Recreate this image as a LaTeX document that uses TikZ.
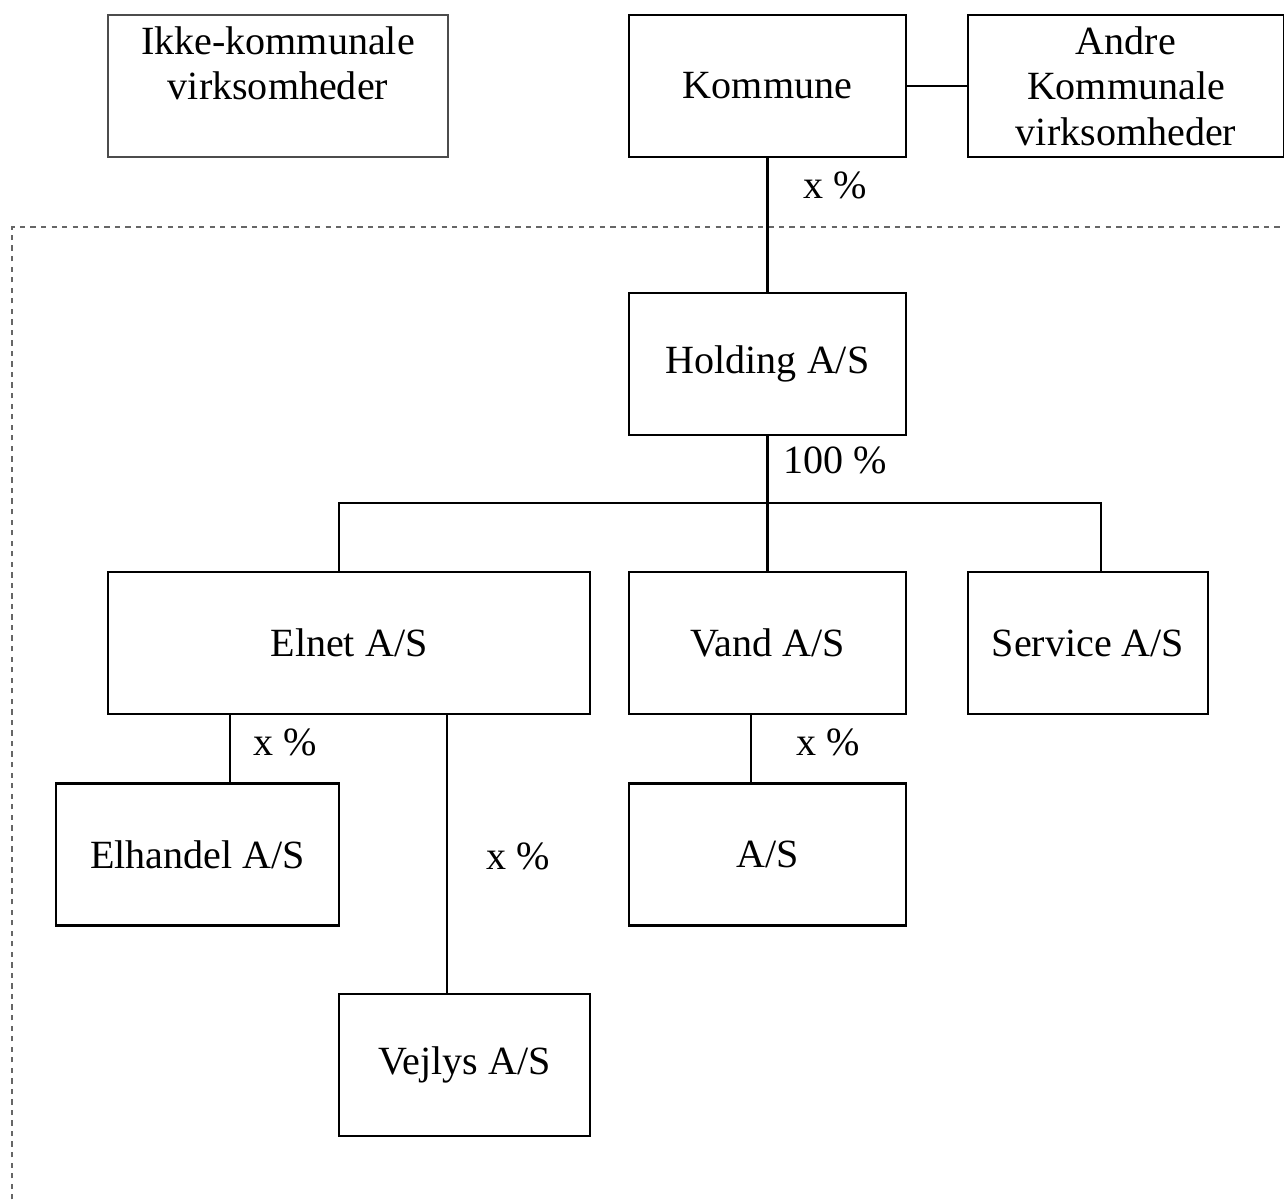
\documentclass[tikz,border=0pt]{standalone}
\usepackage{fontspec}
\setmainfont{Liberation Serif}
\usepackage{tikz}
\usetikzlibrary{positioning}

\tikzset{
  firma/.style={draw, line width=1.6pt, inner sep=0pt, align=center,
    minimum width=5.54cm, minimum height=2.84cm},
  ekstern/.style={firma, draw=black!70, line width=1pt},
  pct/.style={inner sep=0pt}
}

\begin{document}
\begin{tikzpicture}[x=0.02cm, y=-0.02cm, font=\fontsize{22.8}{26}\selectfont]
    \useasboundingbox (0,0) rectangle (1284,1200);
    % top row
    \node[ekstern, minimum width=6.8cm] (ikke) at (278,86) {Ikke-kommunale\\virksomheder\\\phantom{virksomheder}};
    \node[firma] (kommune) at (767.5,86) {Kommune};
    \node[firma, minimum width=6.32cm] (andre) at (1126,86) {Andre\\Kommunale\\virksomheder};
    \draw[line width=1pt] (kommune.east) -- (andre.west);
    % dotted frame
    \draw[black!60, line width=1.3pt, dash pattern=on 3pt off 3pt] (12,1210) -- (12,227) -- (1290,227);
    % holding
    \node[firma] (holding) at (767.5,364) {Holding A/S};
    \draw[line width=1.3pt] (kommune.south) -- (holding.north);
    \node[pct] (pkommune) at (835,185) {x \%};
    \node[pct] (pholding) at (835,460) {100 \%};
    % second level
    \node[firma, minimum width=9.64cm] (elnet) at (349,643) {Elnet A/S};
    \node[firma] (vand) at (767.5,643) {Vand A/S};
    \node[firma, minimum width=4.8cm] (service) at (1088,643) {Service A/S};
    \coordinate (bus) at (767.5,503);
    \draw[line width=1.3pt] (holding.south) -- (bus);
    \draw[line width=1.3pt] ([xshift=-0.2cm]elnet.north) |- (bus) -| ([xshift=0.26cm]service.north);
    \draw[line width=1.3pt] (bus) -- (vand.north);
    % third level
    \node[firma, minimum width=5.66cm] (elhandel) at (197.5,854.5) {Elhandel A/S};
    \node[firma] (as) at (767.5,854.5) {A/S};
    \node[firma, minimum width=5.02cm] (vejlys) at (464.5,1065) {Vejlys A/S};
    \draw[line width=1.3pt] ([xshift=0.65cm]elhandel.north) -- ([xshift=0.65cm]elhandel.north |- elnet.south);
    \draw[line width=1.3pt] ([xshift=-0.35cm]vejlys.north) -- ([xshift=-0.35cm]vejlys.north |- elnet.south);
    \draw[line width=1.3pt] ([xshift=-0.33cm]as.north) -- ([xshift=-0.33cm]as.north |- vand.south);
    \node[pct] (pelhandel) at (285,742) {x \%};
    \node[pct] (pvejlys) at (518,856) {x \%};
    \node[pct] (pas) at (828,742) {x \%};
\end{tikzpicture}
\end{document}
